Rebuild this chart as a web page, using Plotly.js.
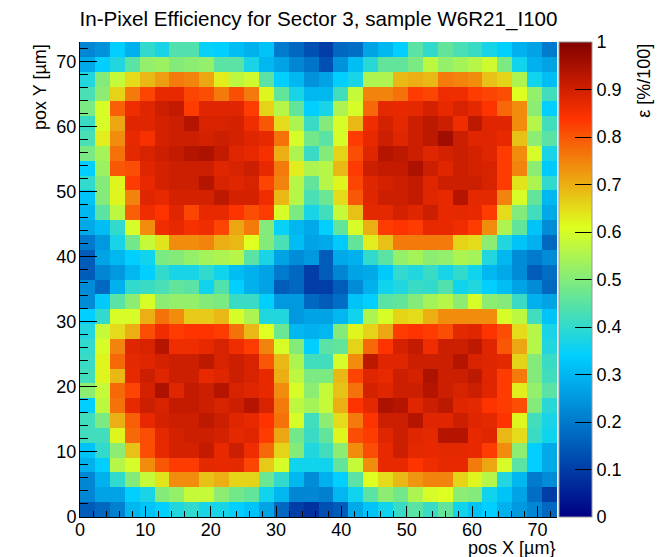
<!DOCTYPE html>
<html>
<head>
<meta charset="utf-8">
<script src="https://cdn.plot.ly/plotly-3.0.1.min.js"></script>
<style>
  html, body { margin: 0; padding: 0; background: #fff; }
  #chart { width: 658px; height: 557px; }
</style>
</head>
<body>
<div id="chart"></div>
<script>
// In-pixel efficiency map, 32 x 32 bins over 0..73 um in X and Y.
const nBins = 32;
const posMax = 73;

// Efficiency per bin, one row per Y bin, bottom row (Y bin 1) first.
// Each row lists the 32 X bins from left to right.
const efficiency = [
  [0.15,0.17,0.21,0.30,0.32,0.34,0.38,0.40,0.37,0.37,0.34,0.32,0.27,0.17,0.10,0.08, 0.13,0.15,0.28,0.32,0.36,0.41,0.45,0.41,0.46,0.36,0.32,0.34,0.29,0.25,0.22,0.17],
  [0.22,0.27,0.27,0.34,0.37,0.50,0.52,0.58,0.58,0.51,0.48,0.46,0.36,0.30,0.22,0.22, 0.21,0.30,0.36,0.45,0.51,0.48,0.55,0.60,0.61,0.51,0.50,0.36,0.32,0.27,0.18,0.10],
  [0.22,0.29,0.40,0.50,0.58,0.64,0.74,0.74,0.68,0.70,0.66,0.66,0.47,0.40,0.30,0.23, 0.29,0.34,0.45,0.61,0.65,0.69,0.73,0.75,0.75,0.66,0.62,0.56,0.38,0.30,0.20,0.23],
  [0.29,0.34,0.56,0.60,0.74,0.80,0.83,0.83,0.875,0.87,0.875,0.82,0.67,0.60,0.36,0.36, 0.36,0.46,0.58,0.74,0.87,0.87,0.84,0.86,0.87,0.87,0.76,0.71,0.60,0.45,0.34,0.28],
  [0.32,0.40,0.51,0.68,0.81,0.87,0.895,0.895,0.915,0.87,0.905,0.86,0.78,0.66,0.50,0.38, 0.42,0.51,0.74,0.81,0.87,0.905,0.875,0.87,0.875,0.875,0.87,0.83,0.74,0.51,0.34,0.28],
  [0.42,0.42,0.62,0.78,0.81,0.875,0.895,0.905,0.905,0.895,0.875,0.88,0.83,0.71,0.48,0.41, 0.46,0.62,0.81,0.83,0.88,0.905,0.88,0.875,0.935,0.935,0.87,0.88,0.69,0.65,0.41,0.36],
  [0.42,0.49,0.70,0.79,0.87,0.895,0.905,0.905,0.925,0.905,0.88,0.87,0.84,0.77,0.60,0.42, 0.51,0.65,0.76,0.84,0.905,0.905,0.935,0.88,0.88,0.905,0.88,0.875,0.84,0.62,0.42,0.37],
  [0.34,0.57,0.77,0.87,0.905,0.89,0.915,0.915,0.905,0.89,0.905,0.935,0.89,0.76,0.57,0.54, 0.58,0.70,0.84,0.875,0.945,0.935,0.88,0.905,0.925,0.88,0.875,0.84,0.83,0.81,0.50,0.39],
  [0.51,0.58,0.78,0.82,0.895,0.945,0.88,0.915,0.905,0.935,0.89,0.88,0.87,0.74,0.60,0.51, 0.58,0.68,0.77,0.895,0.88,0.905,0.905,0.935,0.905,0.89,0.905,0.88,0.83,0.63,0.52,0.45],
  [0.42,0.62,0.69,0.87,0.905,0.88,0.905,0.905,0.87,0.88,0.905,0.89,0.87,0.70,0.57,0.49, 0.49,0.69,0.82,0.88,0.87,0.905,0.895,0.945,0.905,0.905,0.925,0.88,0.83,0.76,0.50,0.42],
  [0.41,0.62,0.78,0.875,0.88,0.895,0.905,0.905,0.925,0.89,0.905,0.89,0.80,0.69,0.55,0.42, 0.42,0.60,0.74,0.925,0.88,0.88,0.905,0.905,0.905,0.935,0.89,0.88,0.875,0.66,0.50,0.41],
  [0.40,0.60,0.75,0.88,0.89,0.935,0.86,0.86,0.87,0.89,0.86,0.83,0.75,0.60,0.50,0.34, 0.45,0.46,0.66,0.78,0.84,0.895,0.915,0.86,0.905,0.905,0.925,0.88,0.80,0.71,0.56,0.38],
  [0.38,0.58,0.65,0.70,0.81,0.86,0.83,0.84,0.84,0.83,0.77,0.69,0.61,0.47,0.30,0.29, 0.30,0.50,0.62,0.66,0.71,0.83,0.84,0.83,0.81,0.875,0.88,0.84,0.81,0.65,0.56,0.37],
  [0.34,0.40,0.60,0.60,0.70,0.77,0.74,0.67,0.67,0.69,0.60,0.55,0.38,0.38,0.25,0.27, 0.27,0.30,0.36,0.55,0.60,0.66,0.65,0.70,0.74,0.74,0.74,0.74,0.60,0.57,0.42,0.32],
  [0.23,0.33,0.45,0.51,0.60,0.51,0.52,0.52,0.50,0.49,0.41,0.41,0.34,0.25,0.25,0.17, 0.15,0.18,0.32,0.34,0.45,0.46,0.50,0.54,0.56,0.51,0.60,0.51,0.50,0.41,0.29,0.27],
  [0.23,0.17,0.29,0.40,0.41,0.43,0.46,0.45,0.36,0.44,0.34,0.29,0.27,0.15,0.17,0.10, 0.10,0.15,0.23,0.29,0.36,0.38,0.41,0.40,0.44,0.36,0.38,0.34,0.31,0.27,0.23,0.17],
  [0.15,0.22,0.25,0.30,0.34,0.40,0.37,0.37,0.40,0.36,0.31,0.29,0.27,0.20,0.17,0.10, 0.15,0.22,0.27,0.28,0.33,0.40,0.38,0.41,0.37,0.40,0.36,0.30,0.28,0.23,0.15,0.18],
  [0.15,0.27,0.30,0.34,0.36,0.49,0.50,0.52,0.54,0.55,0.56,0.45,0.37,0.27,0.23,0.25, 0.15,0.28,0.29,0.40,0.45,0.52,0.54,0.51,0.52,0.55,0.54,0.38,0.30,0.23,0.20,0.23],
  [0.20,0.25,0.37,0.48,0.58,0.64,0.74,0.74,0.75,0.70,0.69,0.61,0.50,0.43,0.31,0.27, 0.28,0.33,0.46,0.63,0.68,0.76,0.76,0.76,0.76,0.66,0.65,0.51,0.38,0.32,0.29,0.17],
  [0.28,0.31,0.40,0.60,0.74,0.86,0.87,0.85,0.86,0.82,0.71,0.76,0.50,0.35,0.30,0.28, 0.34,0.46,0.60,0.70,0.83,0.84,0.83,0.87,0.87,0.86,0.83,0.74,0.55,0.46,0.32,0.23],
  [0.30,0.45,0.57,0.79,0.86,0.84,0.88,0.82,0.87,0.87,0.84,0.81,0.83,0.60,0.49,0.37, 0.42,0.58,0.68,0.875,0.875,0.895,0.88,0.905,0.87,0.875,0.87,0.83,0.65,0.50,0.42,0.28],
  [0.32,0.50,0.62,0.75,0.88,0.87,0.895,0.895,0.895,0.925,0.895,0.895,0.86,0.69,0.56,0.43, 0.47,0.65,0.80,0.88,0.905,0.905,0.915,0.88,0.87,0.935,0.875,0.875,0.75,0.60,0.46,0.30],
  [0.40,0.50,0.62,0.83,0.87,0.895,0.905,0.905,0.935,0.89,0.88,0.89,0.82,0.75,0.56,0.46, 0.56,0.62,0.82,0.88,0.895,0.905,0.915,0.88,0.905,0.905,0.905,0.89,0.83,0.64,0.55,0.40],
  [0.34,0.53,0.80,0.81,0.88,0.895,0.905,0.905,0.905,0.88,0.89,0.905,0.87,0.76,0.63,0.55, 0.56,0.69,0.83,0.905,0.915,0.915,0.945,0.905,0.88,0.905,0.895,0.89,0.83,0.75,0.51,0.33],
  [0.49,0.54,0.77,0.875,0.89,0.905,0.915,0.935,0.945,0.915,0.88,0.87,0.85,0.70,0.55,0.41, 0.50,0.66,0.81,0.88,0.935,0.925,0.905,0.88,0.895,0.905,0.895,0.88,0.83,0.74,0.60,0.37],
  [0.43,0.63,0.74,0.87,0.85,0.895,0.905,0.905,0.895,0.905,0.895,0.88,0.87,0.77,0.60,0.48, 0.45,0.60,0.83,0.87,0.905,0.88,0.905,0.925,0.96,0.905,0.88,0.88,0.87,0.68,0.51,0.45],
  [0.41,0.60,0.71,0.88,0.88,0.895,0.905,0.935,0.89,0.89,0.895,0.86,0.80,0.65,0.55,0.41, 0.50,0.60,0.69,0.86,0.895,0.875,0.905,0.925,0.905,0.86,0.925,0.88,0.88,0.74,0.56,0.42],
  [0.49,0.60,0.79,0.86,0.88,0.905,0.915,0.83,0.88,0.88,0.88,0.83,0.66,0.56,0.46,0.34, 0.37,0.55,0.60,0.78,0.875,0.87,0.875,0.895,0.87,0.89,0.875,0.84,0.78,0.74,0.51,0.34],
  [0.43,0.51,0.66,0.76,0.82,0.87,0.87,0.82,0.81,0.76,0.81,0.76,0.62,0.46,0.37,0.30, 0.30,0.42,0.58,0.75,0.75,0.77,0.83,0.82,0.86,0.86,0.83,0.82,0.81,0.61,0.52,0.42],
  [0.38,0.50,0.58,0.65,0.69,0.72,0.76,0.75,0.71,0.63,0.57,0.59,0.45,0.34,0.30,0.24, 0.27,0.34,0.37,0.55,0.55,0.69,0.70,0.69,0.76,0.75,0.74,0.68,0.66,0.55,0.36,0.31],
  [0.28,0.34,0.38,0.45,0.52,0.53,0.50,0.51,0.52,0.45,0.45,0.37,0.30,0.27,0.22,0.19, 0.13,0.24,0.31,0.39,0.46,0.46,0.49,0.57,0.52,0.54,0.56,0.59,0.49,0.36,0.29,0.27],
  [0.22,0.24,0.34,0.29,0.40,0.37,0.44,0.44,0.35,0.34,0.31,0.29,0.32,0.20,0.17,0.13, 0.10,0.17,0.18,0.27,0.30,0.34,0.45,0.40,0.46,0.43,0.41,0.37,0.34,0.29,0.27,0.20]
];

const colorTicks = [0, 0.1, 0.2, 0.3, 0.4, 0.5, 0.6, 0.7, 0.8, 0.9, 1];

// Gradient palette: navy -> cyan -> yellow -> red -> dark red
const palette = [
  [0.00, 'rgb(0,0,130)'],
  [0.34, 'rgb(0,207,255)'],
  [0.61, 'rgb(222,255,31)'],
  [0.84, 'rgb(255,51,0)'],
  [1.00, 'rgb(130,0,0)']
];

const binWidth = posMax / nBins;
const font = 'Liberation Sans, Arial, sans-serif';

const trace = {
  type: 'heatmap',
  z: efficiency,
  x0: binWidth / 2,
  dx: binWidth,
  y0: binWidth / 2,
  dy: binWidth,
  zmin: 0,
  zmax: 1,
  colorscale: palette,
  colorbar: {
    thickness: 33,
    thicknessmode: 'pixels',
    len: 1,
    lenmode: 'fraction',
    x: 1.005,
    xanchor: 'left',
    y: 0.5,
    yanchor: 'middle',
    xpad: 0,
    ypad: 0,
    outlinewidth: 1,
    outlinecolor: '#999',
    ticks: 'inside',
    ticklen: 17,
    tickwidth: 1,
    tickcolor: '#000',
    tickvals: colorTicks,
    ticktext: colorTicks.map(String),
    tickfont: { family: font, size: 18, color: '#000' }
  }
};

function axis(majorLen, minorLen, standoff) {
  return {
    range: [0, posMax],
    showgrid: false,
    zeroline: false,
    showline: true,
    linecolor: '#000',
    linewidth: 1,
    ticks: 'inside',
    ticklen: majorLen,
    tickwidth: 1,
    tickcolor: '#000',
    tick0: 0,
    dtick: 10,
    ticklabelstandoff: standoff,
    minor: { ticks: 'inside', dtick: 2, ticklen: minorLen, tickcolor: '#000', tickwidth: 1 },
    tickfont: { family: font, size: 18, color: '#000' },
    fixedrange: true
  };
}

const layout = {
  width: 658,
  height: 557,
  margin: { l: 80, r: 101, t: 42, b: 40 },
  paper_bgcolor: '#fff',
  plot_bgcolor: '#fff',
  font: { family: font, color: '#000' },
  title: {
    text: 'In-Pixel Efficiency for Sector 3, sample W6R21_I100',
    font: { family: font, size: 20.6, color: '#000' },
    x: 0.5,
    xref: 'paper',
    xanchor: 'center',
    y: 0.967,
    yref: 'container',
    yanchor: 'middle'
  },
  xaxis: axis(11, 6, -4),
  yaxis: axis(17, 8, -1),
  annotations: [
    {
      text: 'pos X [µm}',
      xref: 'paper', yref: 'paper',
      x: 1, y: -0.066,
      xanchor: 'right', yanchor: 'middle',
      showarrow: false,
      font: { family: font, size: 18, color: '#000' }
    },
    {
      text: 'pox Y [µm]',
      xref: 'paper', yref: 'paper',
      x: -0.084, y: 1,
      xanchor: 'center', yanchor: 'top',
      textangle: -90,
      showarrow: false,
      font: { family: font, size: 18, color: '#000' }
    },
    {
      text: 'ε [%/100]',
      xref: 'paper', yref: 'paper',
      x: 1.182, y: 1,
      xanchor: 'center', yanchor: 'top',
      textangle: -90,
      showarrow: false,
      font: { family: font, size: 18, color: '#000' }
    }
  ]
};

Plotly.newPlot('chart', [trace], layout, { displayModeBar: false, staticPlot: true });
</script>
</body>
</html>
